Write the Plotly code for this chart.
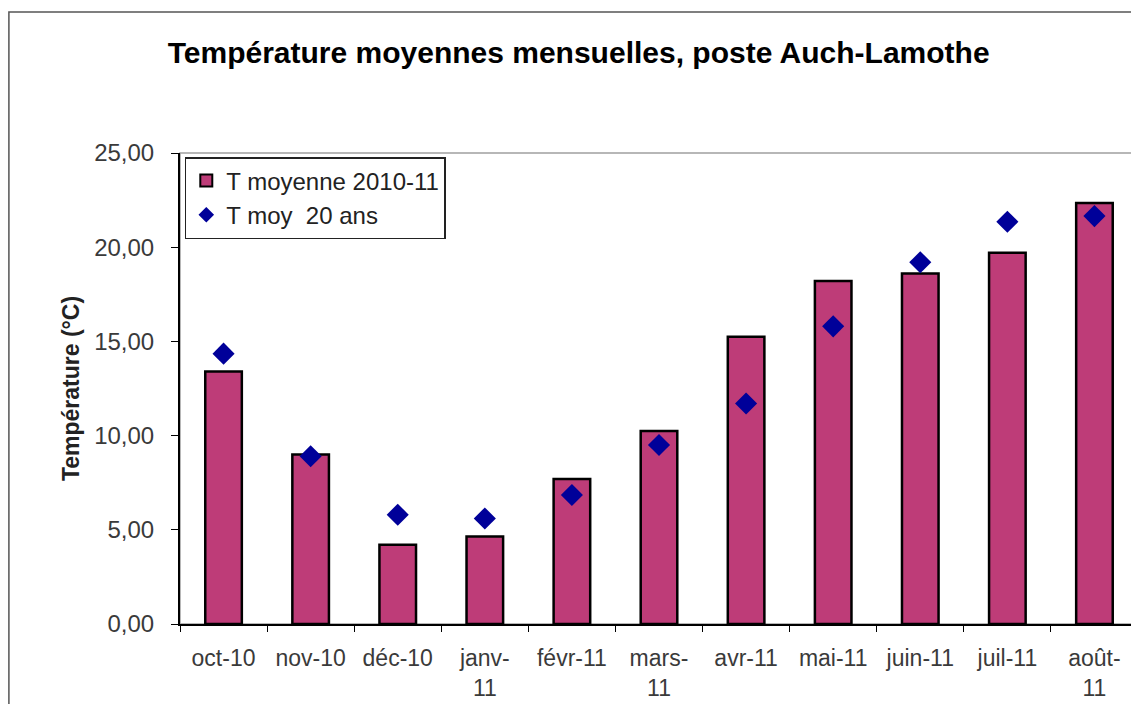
import plotly.graph_objects as go

# ── Data ────────────────────────────────────────────────────────────────
MONTHS = ["oct-10", "nov-10", "déc-10", "janv-11", "févr-11", "mars-11",
          "avr-11", "mai-11", "juin-11", "juil-11", "août-11"]
MONTH_LABELS = ["oct-10", "nov-10", "déc-10", "janv-<br>11", "févr-11", "mars-<br>11",
                "avr-11", "mai-11", "juin-11", "juil-11", "août-<br>11"]
T_MOY_2010_11 = [13.4, 9.0, 4.2, 4.65, 7.7, 10.25, 15.25, 18.2, 18.6, 19.7, 22.35]
T_MOY_20ANS = [14.35, 8.9, 5.8, 5.6, 6.85, 9.5, 11.7, 15.8, 19.2, 21.35, 21.65]
Y_TICKS = [0, 5, 10, 15, 20, 25]

FONT = "Liberation Sans, Arial, sans-serif"
BAR_COLOR = "#BE3C78"
DIAMOND_COLOR = "#000099"
TICK_COLOR = "#3A3A3A"

fig = go.Figure()
fig.add_trace(go.Bar(
    x=MONTHS, y=T_MOY_2010_11, name="T moyenne 2010-11",
    width=0.42,
    marker=dict(color=BAR_COLOR, line=dict(color="black", width=2.5)),
))
fig.add_trace(go.Scatter(
    x=MONTHS, y=T_MOY_20ANS, name="T moy  20 ans", mode="markers",
    marker=dict(symbol="diamond", size=17, color=DIAMOND_COLOR),
))

# outer chart frame (cropped at right/bottom) and plot-area border
fig.add_shape(type="rect", xref="paper", yref="paper",
              x0=-0.1786, y0=-0.3, x1=1.05, y1=1.2994,
              line=dict(color="#555555", width=1.5), layer="below")
fig.add_shape(type="rect", xref="paper", yref="paper",
              x0=0, y0=0, x1=1, y1=1,
              line=dict(color="#A0A0A0", width=1.5), layer="below")

fig.update_layout(
    width=1139, height=704,
    paper_bgcolor="white", plot_bgcolor="white",
    font=dict(family=FONT, color=TICK_COLOR, size=24),
    separators=", ",
    margin=dict(l=172, r=9, t=145, b=88),
    title=dict(text="<b>Température moyennes mensuelles, poste Auch-Lamothe</b>",
               x=0.501, xanchor="center", y=0.9375, yanchor="middle",
               font=dict(size=30, color="black", family=FONT)),
    showlegend=True,
    legend=dict(x=0.005, y=0.9915, xanchor="left", yanchor="top",
                bgcolor="white", bordercolor="#222222", borderwidth=1.5,
                font=dict(size=24, color="#222222", family=FONT),
                itemwidth=30, itemsizing="constant", tracegroupgap=0),
    bargap=0.5,
)
fig.update_xaxes(
    type="category", tickmode="array", tickvals=MONTHS, ticktext=MONTH_LABELS,
    tickson="boundaries", ticks="outside", ticklen=6, tickcolor="black",
    showline=True, linecolor="black", linewidth=2, showgrid=False,
    tickfont=dict(size=23, color=TICK_COLOR), ticklabelstandoff=12,
    range=[-0.5, 10.5],
)
fig.update_yaxes(
    range=[0, 25], tickvals=Y_TICKS, tickformat=".2f",
    ticks="outside", ticklen=7, tickcolor="black",
    showline=True, linecolor="black", linewidth=2, showgrid=False,
    zeroline=False, tickfont=dict(size=24, color=TICK_COLOR),
    ticklabelstandoff=12,
    title=dict(text="<b>Température (°C)</b>", standoff=8,
               font=dict(size=23, color="#222222", family=FONT)),
)

fig.write_html("out.html")
